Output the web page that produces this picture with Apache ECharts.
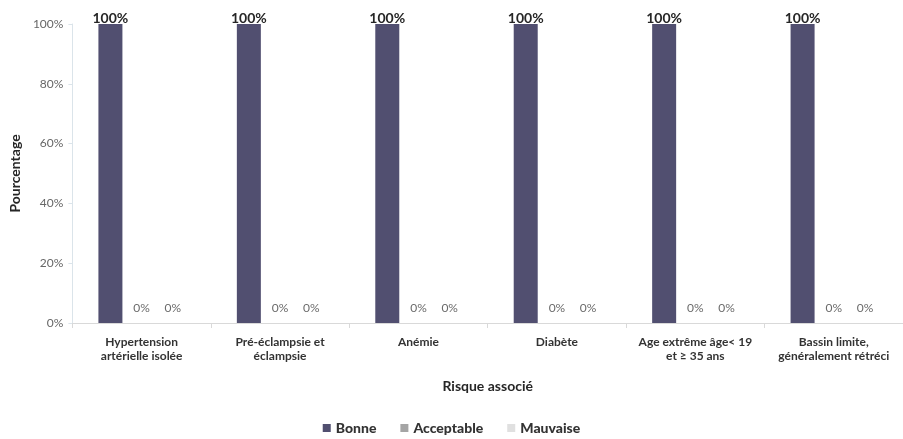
<!DOCTYPE html>
<html>
<head>
<meta charset="utf-8">
<script src="https://cdn.jsdelivr.net/npm/echarts@6/dist/echarts.min.js"></script>
<style>
  html, body { margin: 0; padding: 0; background: #fff; }
  #chart { width: 903px; height: 439px; }
</style>
</head>
<body>
<div id="chart"></div>
<script>
// Risk categories on the x axis
const categories = [
  'Hypertension\nartérielle isolée',
  'Pré-éclampsie et\néclampsie',
  'Anémie',
  'Diabète',
  'Age extrême âge< 19\net ≥ 35 ans',
  'Bassin limite,\ngénéralement rétréci'
];
// Share of outcomes per risk (%)
const bonne = [100, 100, 100, 100, 100, 100];
const acceptable = [0, 0, 0, 0, 0, 0];
const mauvaise = [0, 0, 0, 0, 0, 0];
const yTicks = [0, 20, 40, 60, 80, 100];

const FONT = 'Lato, "Open Sans", sans-serif';

function barSeries(name, data, color, bold) {
  return {
    name: name,
    type: 'bar',
    data: data,
    barWidth: 24,
    barGap: '30%',
    itemStyle: { color: color },
    label: {
      show: true,
      position: 'top',
      distance: bold ? -1 : 9,
      formatter: '{c}%',
      fontFamily: FONT,
      fontSize: bold ? 14 : 12,
      fontWeight: bold ? 'bold' : 'normal',
      color: bold ? '#262626' : '#6b6b6b'
    }
  };
}

const chart = echarts.init(document.getElementById('chart'));
chart.setOption({
  animation: false,
  textStyle: { fontFamily: FONT },
  grid: { left: 71, right: 0, top: 24, bottom: 116, containLabel: false },
  legend: {
    bottom: -1,
    left: 'center',
    itemWidth: 8,
    itemHeight: 8,
    itemGap: 24,
    icon: 'rect',
    textStyle: { fontFamily: FONT, fontSize: 14, fontWeight: 900, color: '#333' },
    data: ['Bonne', 'Acceptable', 'Mauvaise']
  },
  xAxis: {
    type: 'category',
    data: categories,
    name: 'Risque associé',
    nameLocation: 'middle',
    nameGap: 56,
    nameTextStyle: { fontFamily: FONT, fontSize: 14, fontWeight: 'bold', color: '#262626' },
    axisLine: { lineStyle: { color: '#d9d9d9' } },
    axisTick: { show: true, length: 5, lineStyle: { color: '#d9d9d9' } },
    axisLabel: {
      interval: 0,
      margin: 12,
      fontFamily: FONT,
      fontSize: 12,
      fontWeight: 'bold',
      color: '#333',
      lineHeight: 14,
      align: 'center'
    }
  },
  yAxis: {
    type: 'value',
    min: 0,
    max: 100,
    interval: 20,
    name: 'Pourcentage',
    nameLocation: 'middle',
    nameGap: 48,
    nameRotate: 90,
    nameTextStyle: { fontFamily: FONT, fontSize: 14, fontWeight: 'bold', color: '#262626' },
    axisLine: { show: true, lineStyle: { color: '#dbe4ea' } },
    axisTick: { show: true, length: 4, lineStyle: { color: '#dbe4ea' } },
    splitLine: { show: false },
    axisLabel: {
      fontFamily: FONT,
      fontSize: 12,
      color: '#666',
      margin: 9,
      formatter: function (v) { return yTicks.indexOf(v) >= 0 ? v + '%' : ''; }
    }
  },
  series: [
    barSeries('Bonne', bonne, '#514f70', true),
    barSeries('Acceptable', acceptable, '#a5a5a5', false),
    barSeries('Mauvaise', mauvaise, '#e0e0e0', false)
  ]
});
</script>
</body>
</html>
